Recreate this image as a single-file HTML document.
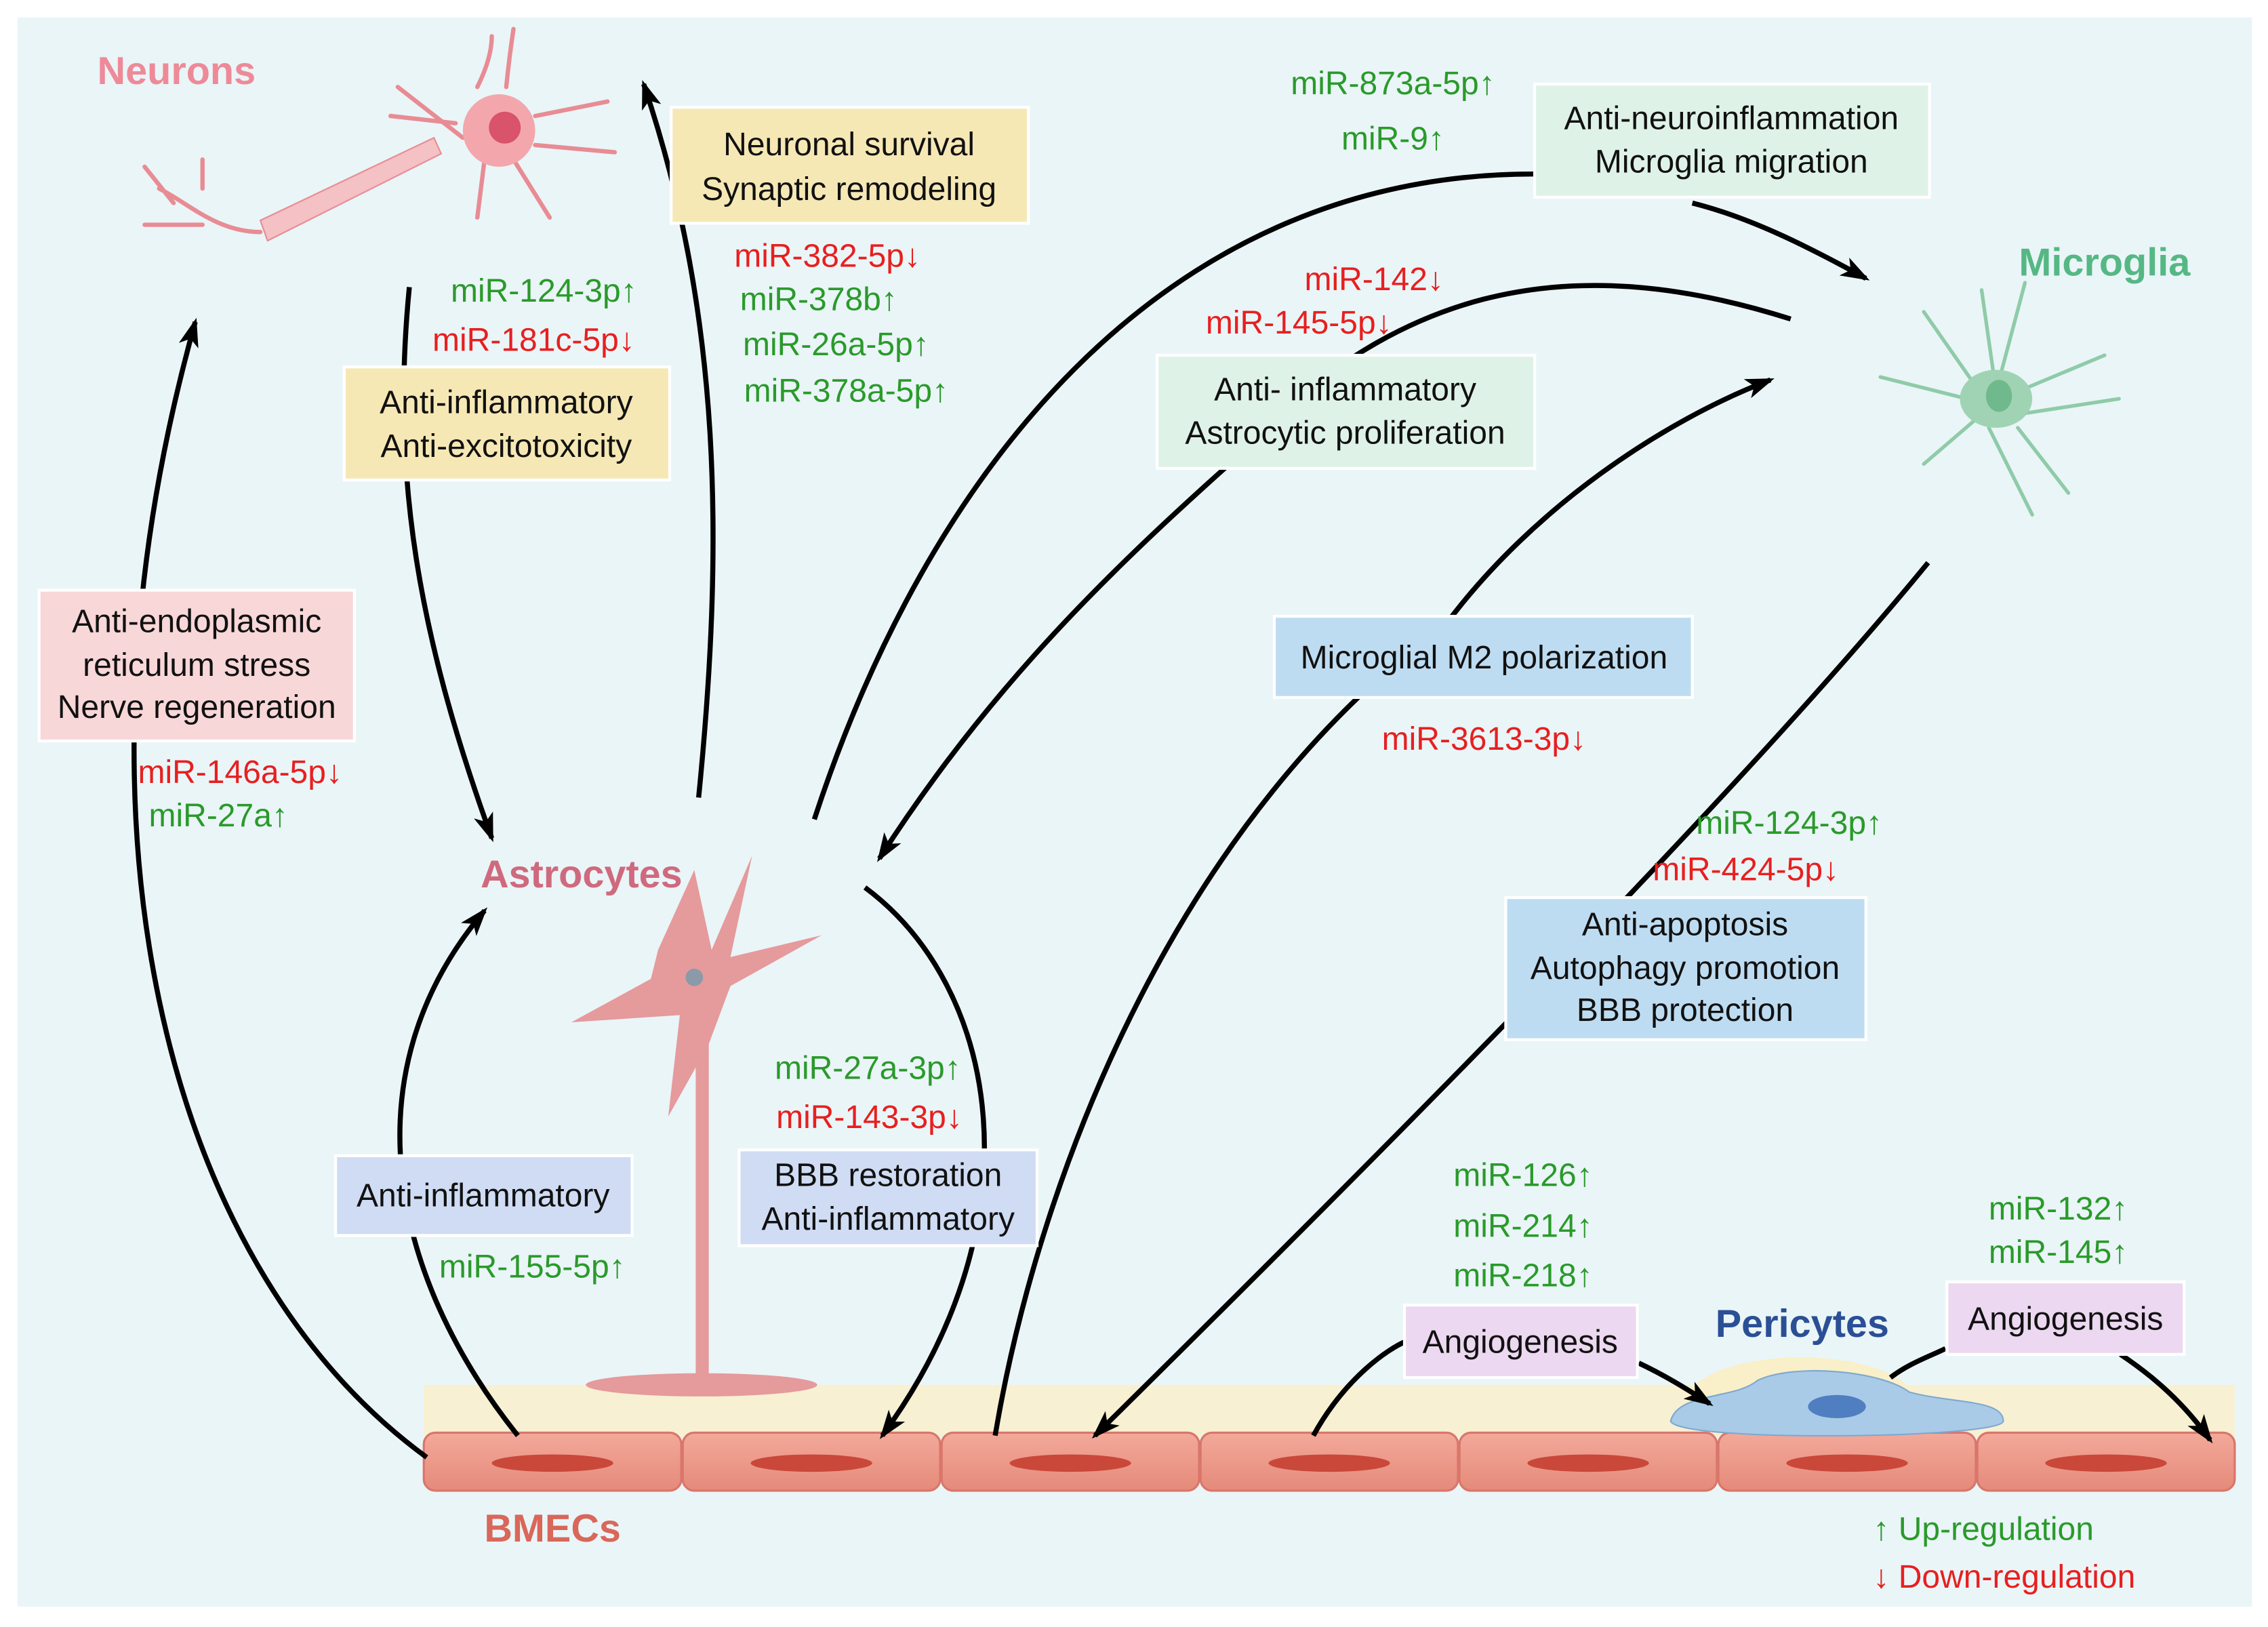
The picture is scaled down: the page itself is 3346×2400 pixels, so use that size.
<!DOCTYPE html>
<html><head><meta charset="utf-8"><style>
html,body{margin:0;padding:0;background:#fff}
svg{display:block}
text{font-family:"Liberation Sans",Arial,sans-serif}
</style></head><body>
<svg width="3346" height="2400" viewBox="0 0 1568 1122" preserveAspectRatio="none" xmlns="http://www.w3.org/2000/svg">
<defs>
<marker id="a" viewBox="0 0 20 14" refX="17" refY="7" markerWidth="20" markerHeight="14" orient="auto" markerUnits="userSpaceOnUse">
<path d="M0,0 L20,7 L0,14 L5,7 z" fill="#000"/>
</marker>
<linearGradient id="cell" x1="0" y1="0" x2="0" y2="1"><stop offset="0" stop-color="#f3a99a"/><stop offset="1" stop-color="#e58a7a"/></linearGradient>
</defs>
<rect x="0" y="0" width="1568" height="1122" fill="#fff"/>
<rect x="12" y="12" width="1545" height="1096" fill="#eaf5f8"/>

<rect x="293" y="955" width="1252" height="36" fill="#f8f0d2"/>
<ellipse cx="1245" cy="968" rx="80" ry="32" fill="#f9efc8"/>
<g stroke="#d9766a" stroke-width="1.5">
<rect x="293" y="988" width="178" height="40" rx="8" fill="url(#cell)"/>
<rect x="472" y="988" width="178" height="40" rx="8" fill="url(#cell)"/>
<rect x="651" y="988" width="178" height="40" rx="8" fill="url(#cell)"/>
<rect x="830" y="988" width="178" height="40" rx="8" fill="url(#cell)"/>
<rect x="1009" y="988" width="178" height="40" rx="8" fill="url(#cell)"/>
<rect x="1188" y="988" width="178" height="40" rx="8" fill="url(#cell)"/>
<rect x="1367" y="988" width="178" height="40" rx="8" fill="url(#cell)"/>
</g>
<g fill="#c9483a">
<ellipse cx="382" cy="1009" rx="42" ry="6"/><ellipse cx="561" cy="1009" rx="42" ry="6"/><ellipse cx="740" cy="1009" rx="42" ry="6"/><ellipse cx="919" cy="1009" rx="42" ry="6"/><ellipse cx="1098" cy="1009" rx="42" ry="6"/><ellipse cx="1277" cy="1009" rx="42" ry="6"/><ellipse cx="1456" cy="1009" rx="42" ry="6"/>
</g>
<path d="M1155,980 C1160,960 1200,965 1215,952 C1240,940 1300,945 1320,960 C1350,968 1385,965 1385,980 C1385,992 1160,995 1155,980 z" fill="#a9cbe8" stroke="#7ea9cf"/>
<ellipse cx="1270" cy="970" rx="20" ry="8" fill="#4f7fc0"/>

<g fill="#e59a9c">
<rect x="481" y="690" width="9" height="260"/>
<ellipse cx="485" cy="955" rx="80" ry="8"/>
<path d="M480,600 L492,655 L520,590 L505,660 L568,645 L505,680 L490,720 L462,770 L470,700 L395,705 L450,675 L455,655 z"/>
</g>
<circle cx="480" cy="674" r="6" fill="#8a9aa8"/>

<g stroke="#e88c94" fill="none" stroke-width="3" stroke-linecap="round">
<path d="M330,60 Q340,40 340,25 M350,60 Q352,40 355,20 M370,80 L420,70 M370,100 L425,105 M355,110 L380,150 M335,110 L330,150 M320,95 L275,60 M315,85 L270,80"/>
<path d="M180,160 C150,160 130,140 110,130 M140,155 L100,155 M120,140 L100,115 M140,130 L140,110"/>
</g>
<path d="M180,152 L300,95 L305,106 L185,166 z" fill="#f4c1c4" stroke="#e88c94"/>
<circle cx="345" cy="90" r="25" fill="#f3a7ad"/>
<circle cx="349" cy="88" r="11" fill="#d9536a"/>

<g stroke="#8fcba8" fill="none" stroke-width="2.5" stroke-linecap="round">
<path d="M1380,270 L1370,200 M1380,270 L1400,195 M1395,270 L1455,245 M1400,285 L1465,275 M1395,295 L1430,340 M1375,295 L1405,355 M1365,290 L1330,320 M1360,275 L1300,260 M1365,265 L1330,215"/>
</g>
<ellipse cx="1380" cy="275" rx="25" ry="20" fill="#9fd3b4"/>
<ellipse cx="1382" cy="273" rx="9" ry="11" fill="#6fb98d"/>

<g stroke="#000" stroke-width="3.5" fill="none">
<path d="M295,1005 C110,870 40,560 135,222" marker-end="url(#a)"/>
<path d="M283,198 C270,330 290,440 340,578" marker-end="url(#a)"/>
<path d="M483,550 C500,380 500,220 445,58" marker-end="url(#a)"/>
<path d="M563,565 C640,330 800,120 1060,120"/>
<path d="M1170,140 C1210,150 1250,170 1290,192" marker-end="url(#a)"/>
<path d="M1238,220 C1080,170 960,200 850,320 C760,400 680,480 608,592" marker-end="url(#a)"/>
<path d="M688,990 C720,800 820,560 1000,430 C1060,350 1150,290 1224,262" marker-end="url(#a)"/>
<path d="M1333,388 C1200,550 950,800 757,990" marker-end="url(#a)"/>
<path d="M598,612 C690,680 720,840 610,990" marker-end="url(#a)"/>
<path d="M358,990 C270,880 240,740 335,628" marker-end="url(#a)"/>
<path d="M908,990 C930,950 960,930 972,925"/>
<path d="M1133,940 C1150,948 1165,957 1182,968" marker-end="url(#a)"/>
<path d="M1466,934 C1490,950 1510,968 1528,993" marker-end="url(#a)"/>
<path d="M1307,950 C1320,940 1335,935 1345,930"/>
</g>

<g stroke="#fff" stroke-width="2">
<rect x="464" y="74" width="247" height="80" fill="#f6e8b5"/>
<rect x="238" y="253" width="225" height="78" fill="#f6e8b5"/>
<rect x="27" y="407" width="218" height="104" fill="#f8d7d8"/>
<rect x="1061" y="58" width="273" height="78" fill="#dff2e8"/>
<rect x="800" y="245" width="261" height="78" fill="#dff2e8"/>
<rect x="881" y="425" width="289" height="56" fill="#bedcf1"/>
<rect x="1041" y="619" width="249" height="98" fill="#bedcf1"/>
<rect x="232" y="797" width="205" height="55" fill="#cfdcf3"/>
<rect x="511" y="793" width="206" height="66" fill="#cfdcf3"/>
<rect x="971" y="900" width="161" height="50" fill="#ecd8f0"/>
<rect x="1346" y="884" width="164" height="50" fill="#ecd8f0"/>
</g>

<g font-size="22.5" fill="#111" text-anchor="middle">
<text x="587" y="107">Neuronal survival</text><text x="587" y="138">Synaptic remodeling</text>
<text x="350" y="285">Anti-inflammatory</text><text x="350" y="315">Anti-excitotoxicity</text>
<text x="136" y="436">Anti-endoplasmic</text><text x="136" y="466">reticulum stress</text><text x="136" y="495">Nerve regeneration</text>
<text x="1197" y="89">Anti-neuroinflammation</text><text x="1197" y="119">Microglia migration</text>
<text x="930" y="276">Anti- inflammatory</text><text x="930" y="306">Astrocytic proliferation</text>
<text x="1026" y="461">Microglial M2 polarization</text>
<text x="1165" y="645">Anti-apoptosis</text><text x="1165" y="675">Autophagy promotion</text><text x="1165" y="704">BBB protection</text>
<text x="334" y="832">Anti-inflammatory</text>
<text x="614" y="818">BBB restoration</text><text x="614" y="848">Anti-inflammatory</text>
<text x="1051" y="933">Angiogenesis</text>
<text x="1428" y="917">Angiogenesis</text>
</g>

<g font-size="22.5" text-anchor="middle">
<text x="376" y="208" fill="#2a9a2a">miR-124-3p↑</text>
<text x="369" y="242" fill="#e81f1f">miR-181c-5p↓</text>
<text x="572" y="184" fill="#e81f1f">miR-382-5p↓</text>
<text x="566" y="214" fill="#2a9a2a">miR-378b↑</text>
<text x="578" y="245" fill="#2a9a2a">miR-26a-5p↑</text>
<text x="585" y="277" fill="#2a9a2a">miR-378a-5p↑</text>
<text x="963" y="65" fill="#2a9a2a">miR-873a-5p↑</text>
<text x="963" y="103" fill="#2a9a2a">miR-9↑</text>
<text x="950" y="200" fill="#e81f1f">miR-142↓</text>
<text x="898" y="230" fill="#e81f1f">miR-145-5p↓</text>
<text x="166" y="540" fill="#e81f1f">miR-146a-5p↓</text>
<text x="151" y="570" fill="#2a9a2a">miR-27a↑</text>
<text x="1026" y="517" fill="#e81f1f">miR-3613-3p↓</text>
<text x="1237" y="575" fill="#2a9a2a">miR-124-3p↑</text>
<text x="1207" y="607" fill="#e81f1f">miR-424-5p↓</text>
<text x="600" y="744" fill="#2a9a2a">miR-27a-3p↑</text>
<text x="601" y="778" fill="#e81f1f">miR-143-3p↓</text>
<text x="368" y="881" fill="#2a9a2a">miR-155-5p↑</text>
<text x="1053" y="818" fill="#2a9a2a">miR-126↑</text>
<text x="1053" y="853" fill="#2a9a2a">miR-214↑</text>
<text x="1053" y="887" fill="#2a9a2a">miR-218↑</text>
<text x="1423" y="841" fill="#2a9a2a">miR-132↑</text>
<text x="1423" y="871" fill="#2a9a2a">miR-145↑</text>
</g>
<g font-size="22.5" text-anchor="start">
<text x="1295" y="1062" fill="#2a9a2a">↑ Up-regulation</text>
<text x="1295" y="1095" fill="#e81f1f">↓ Down-regulation</text>
</g>

<g font-size="27" font-weight="bold" text-anchor="middle">
<text x="122" y="58" fill="#ee8a98">Neurons</text>
<text x="1455" y="190" fill="#55b884">Microglia</text>
<text x="402" y="612" fill="#cf6a7e">Astrocytes</text>
<text x="1246" y="922" fill="#2a4f95">Pericytes</text>
<text x="382" y="1063" fill="#d9675a">BMECs</text>
</g>
</svg>
</body></html>
